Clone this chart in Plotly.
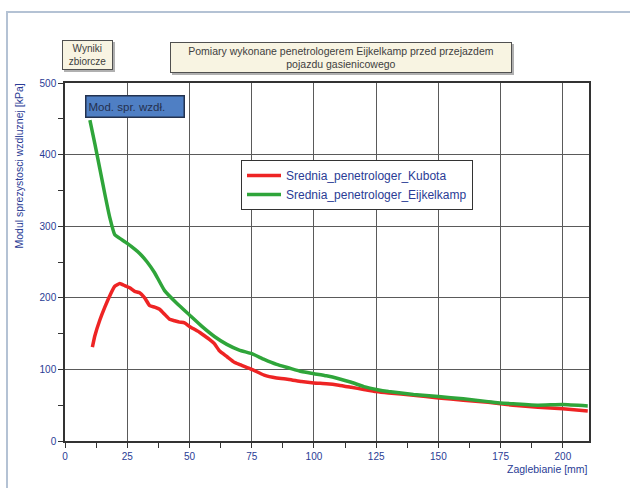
import plotly.graph_objects as go

# ---- data ----
kubota_x = [11, 12, 14, 16, 18, 20, 22, 24, 26, 28, 30, 32, 34, 36, 38, 40, 42, 44, 46, 48, 50,
            52, 54, 56, 58, 60, 62, 65, 68, 70, 75, 80, 85, 90, 95, 100, 105, 110, 115, 120,
            125, 130, 140, 150, 160, 170, 175, 180, 190, 200, 210]
kubota_y = [131, 147, 169, 187, 203, 216, 220, 217, 214, 209, 207, 200, 189, 187, 184, 177, 170,
            168, 166, 165, 160, 156, 152, 147, 142, 136, 126, 118, 110, 107, 100, 92, 88, 86, 83,
            81, 80, 78, 75, 72, 69, 67, 64, 60, 57, 54, 52, 50, 47, 45, 42]

eijk_x = [10, 12, 14, 16, 18, 20, 22, 25, 28, 30, 33, 36, 40, 45, 50, 55, 60, 65, 70, 75, 80, 85,
          90, 95, 100, 105, 110, 115, 120, 125, 130, 140, 150, 160, 170, 175, 180, 190, 200, 210]
eijk_y = [448, 415, 380, 345, 312, 288, 283, 276, 268, 262, 250, 235, 210, 192, 176, 160, 146,
          135, 127, 122, 114, 107, 102, 97, 94, 91, 87, 82, 76, 72, 69, 65, 62, 59, 55, 53, 52,
          50, 51, 49]

series_names = ["Srednia_penetrologer_Kubota", "Srednia_penetrologer_Eijkelkamp"]
x_ticks = [0, 25, 50, 75, 100, 125, 150, 175, 200]
y_ticks = [0, 100, 200, 300, 400, 500]

BLUE = "#2a3c95"
FONT = "Liberation Sans, Arial, sans-serif"

fig = go.Figure()
fig.add_trace(go.Scatter(x=kubota_x, y=kubota_y, mode="lines", name=series_names[0],
                         line=dict(color="#ee2424", width=3.5, shape="spline", smoothing=0.4)))
fig.add_trace(go.Scatter(x=eijk_x, y=eijk_y, mode="lines", name=series_names[1],
                         line=dict(color="#2fa53a", width=3.5, shape="spline", smoothing=0.4)))

L, R, T, B = 65, 41, 83, 47
W, H = 630, 488
PW, PH = W - L - R, H - T - B


def px(x):
    return (x - L) / PW


def py(y):
    return (H - B - y) / PH


fig.update_layout(
    width=W, height=H,
    margin=dict(l=L, r=R, t=T, b=B),
    paper_bgcolor="white", plot_bgcolor="white",
    font=dict(family=FONT, size=10, color=BLUE),
    showlegend=True,
    legend=dict(x=px(241), y=py(160), xanchor="left", yanchor="top",
                bgcolor="white", bordercolor="#333333", borderwidth=1,
                font=dict(size=12, color=BLUE, family=FONT), itemwidth=34,
                tracegroupgap=0),
    xaxis=dict(range=[0, 210.5], tickvals=x_ticks, showgrid=True, gridcolor="#5a5a5a",
               gridwidth=1, zeroline=False, showline=True, linecolor="#333333", linewidth=1.5,
               mirror=True, ticks="outside", ticklen=5, tickcolor="#333333",
               tickfont=dict(size=10, color=BLUE),
               minor=dict(dtick=12.5, tick0=0, ticks="outside", ticklen=5, tickcolor="#333333",
                          showgrid=False)),
    yaxis=dict(range=[0, 500], tickvals=y_ticks, showgrid=True, gridcolor="#5a5a5a",
               gridwidth=1, zeroline=False, showline=True, linecolor="#333333", linewidth=1.5,
               mirror=True, ticks="outside", ticklen=5, tickcolor="#333333",
               tickfont=dict(size=10, color=BLUE),
               minor=dict(dtick=50, tick0=0, ticks="outside", ticklen=5, tickcolor="#333333",
                          showgrid=False)),
)

shapes = [
    # outer frame
    dict(type="rect", xref="paper", yref="paper", x0=px(7), x1=px(640), y0=py(500), y1=py(12),
         line=dict(color="#b4c2d4", width=2), fillcolor="rgba(0,0,0,0)", layer="below"),
    # shadows for boxes
    dict(type="rect", xref="paper", yref="paper", x0=px(64), x1=px(115), y0=py(72), y1=py(42),
         line=dict(width=0), fillcolor="#b0b0b0"),
    dict(type="rect", xref="paper", yref="paper", x0=px(172), x1=px(514), y0=py(75), y1=py(44),
         line=dict(width=0), fillcolor="#b0b0b0"),
]
fig.update_layout(shapes=shapes)

annotations = [
    dict(text="Wyniki<br>zbiorcze", xref="paper", yref="paper", x=px(87.5), y=py(55),
         xanchor="center", yanchor="middle", showarrow=False, width=45, height=24,
         bgcolor="#f8f4e2", bordercolor="#505050", borderwidth=1, borderpad=2,
         font=dict(size=10, color="#404040", family=FONT)),
    dict(text="Pomiary wykonane penetrologerem Eijkelkamp przed przejazdem<br>pojazdu gasienicowego",
         xref="paper", yref="paper", x=px(341), y=py(57.5), xanchor="center", yanchor="middle",
         showarrow=False, width=336, height=25, bgcolor="#f8f4e2", bordercolor="#505050",
         borderwidth=1, borderpad=2, font=dict(size=10.5, color="#404040", family=FONT)),
    dict(text="Mod. spr. wzdł.", xref="paper", yref="paper", x=px(134.5), y=py(106),
         xanchor="center", yanchor="middle", showarrow=False, width=93, height=16,
         bgcolor="#4f7fc4", bordercolor="#23324f", borderwidth=1.5, borderpad=2, align="left",
         font=dict(size=11.5, color="#25304f", family=FONT)),
    dict(text="Modul sprezystosci wzdluznej [kPa]", xref="paper", yref="paper", x=px(18),
         y=py(82), xanchor="center", yanchor="top", textangle=-90, showarrow=False,
         font=dict(size=10.5, color=BLUE, family=FONT)),
    dict(text="Zaglebianie [mm]", xref="paper", yref="paper", x=px(590), y=py(461),
         xanchor="right", yanchor="top", showarrow=False,
         font=dict(size=10.5, color=BLUE, family=FONT)),
]
fig.update_layout(annotations=annotations)

fig.write_html("out.html", config={"displayModeBar": False},
               post_script="document.body.style.margin='0';document.body.style.padding='0';")
